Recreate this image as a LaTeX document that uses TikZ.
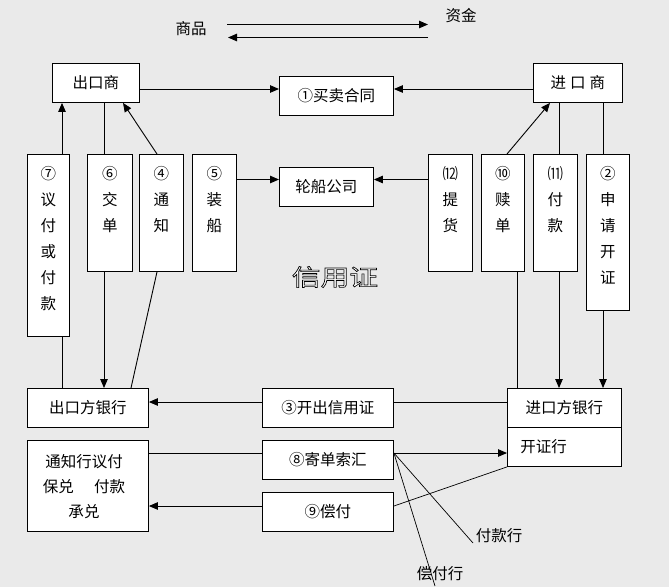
\documentclass[tikz,border=0pt]{standalone}
\usepackage{fontspec}
\setmainfont{Noto Sans CJK SC}
\newfontfamily\ttlfont{Noto Sans CJK SC}[BoldFont=Noto Sans CJK SC, BoldFeatures={FakeBold=2.6}]
\usetikzlibrary{arrows.meta,calc}
\definecolor{bg}{HTML}{EAEAEA}
\begin{document}
\begin{tikzpicture}[x=1pt,y=-1pt,
  box/.style={draw=black, fill=white, line width=0.9pt, inner sep=0pt, anchor=north west, font=\fontsize{15.5}{17}\selectfont},
  ln/.style={line width=0.9pt},
  thinln/.style={line width=0.7pt},
  arr/.style={ln, -{Triangle[length=9pt,width=7.5pt]}},
  vt/.style={align=center, font=\fontsize{15.5}{26}\selectfont, inner sep=0pt, anchor=north},
  lbl/.style={inner sep=0pt, font=\fontsize{15.5}{17}\selectfont},
  ttl/.style={inner sep=0pt, font=\ttlfont\fontsize{23}{23}\selectfont\bfseries},
  ]
\fill[bg] (0,0) rectangle (669,587);
\useasboundingbox (0,0) rectangle (669,587);

% top goods / money
\node[lbl] (goods) at (191,29) {商品};
\node[lbl] (money) at (461,16) {资金};
\coordinate (ga) at (227,24.5);
\coordinate (gb) at (428,24.5);
\coordinate (ma) at (428,37.5);
\coordinate (mb) at (228,37.5);
\draw[arr] (ga) -- (gb);
\draw[arr] (ma) -- (mb);

% boxes
\node[box, minimum width=87pt, minimum height=39pt] (ex) at (52,63) {出口商};
\node[box, minimum width=89pt, minimum height=39pt] (im) at (533,63) {进\hspace{4pt}口\hspace{4pt}商};
\node[box, minimum width=114pt, minimum height=39pt] (ct) at (279,76) {①买卖合同};
\node[box, minimum width=94pt, minimum height=39pt] (ship) at (279,167) {轮船公司};

\node[box, minimum width=42pt, minimum height=182pt] (b7) at (27,154) {};
\node[box, minimum width=45pt, minimum height=117pt] (b6) at (87,154) {};
\node[box, minimum width=44pt, minimum height=117pt] (b4) at (139,154) {};
\node[box, minimum width=44pt, minimum height=117pt] (b5) at (192,154) {};
\node[box, minimum width=44pt, minimum height=117pt] (b12) at (428,154) {};
\node[box, minimum width=43pt, minimum height=117pt] (b10) at (481,154) {};
\node[box, minimum width=44pt, minimum height=117pt] (b11) at (533,154) {};
\node[box, minimum width=43pt, minimum height=156pt] (b2) at (586,154) {};

\node[vt] (t7) at ([yshift=-12pt]b7.north) {⑦\\议\\付\\或\\付\\款};
\node[vt] (t6) at ([yshift=-12pt]b6.north) {⑥\\交\\单};
\node[vt] (t4) at ([yshift=-12pt]b4.north) {④\\通\\知};
\node[vt] (t5) at ([yshift=-12pt]b5.north) {⑤\\装\\船};
\node[vt] (t12) at ([yshift=-12pt]b12.north) {⑿\\提\\货};
\node[vt] (t10) at ([yshift=-12pt]b10.north) {⑩\\赎\\单};
\node[vt] (t11) at ([yshift=-12pt]b11.north) {⑾\\付\\款};
\node[vt] (t2) at ([yshift=-12pt]b2.north) {②\\申\\请\\开\\证};

\node[box, minimum width=121pt, minimum height=39pt] (exb) at (27,388) {出口方银行};
\node[box, minimum width=131pt, minimum height=39pt] (lc) at (262,388) {③开出信用证};
\node[box, minimum width=114pt, minimum height=39pt] (imb) at (507,388) {进口方银行};
\node[box, minimum width=114pt, minimum height=39pt, text width=88pt, align=left] (imb2) at (507,427) {开证行};
\node[box, minimum width=121pt, minimum height=91pt] (adv) at (27,440) {};
\node[inner sep=0pt, align=center, font=\fontsize{15.5}{25}\selectfont] (advt) at (84,487) {通知行议付\\保兑\hspace{1.3em}付款\\承兑};
\node[box, minimum width=131pt, minimum height=39pt] (s8) at (262,440) {⑧寄单索汇};
\node[box, minimum width=131pt, minimum height=39pt] (s9) at (262,492) {⑨偿付};

\node[lbl] (fk) at (499,536) {付款行};
\node[lbl] (ck) at (440,574) {偿付行};

% title: white letters with black outline
\node[ttl] (ttl) at (335,277) {\color{white}\special{pdf:code 0 G}\scalebox{1.25}[1]{信用证}};

% level coordinates
\coordinate (yc) at (0,89);
\coordinate (ysh) at (0,179.5);
\coordinate (ylc) at (0,402);
\coordinate (y8) at (0,453);
\coordinate (y9) at (0,506);
\coordinate (x7) at (62,0);
\coordinate (x6) at (104,0);
\coordinate (x4) at (157,0);
\coordinate (xa4) at (123,0);
\coordinate (xb4) at (131,0);
\coordinate (x10) at (507,0);
\coordinate (xa10) at (550,0);
\coordinate (xb10) at (517,0);
\coordinate (x11) at (559,0);
\coordinate (x2) at (603,0);
\coordinate (pk) at (473,543);
\coordinate (pc) at (435,586);

% connectors top
\draw[arr] (ex.east |- yc) -- (ct.west |- yc);
\draw[arr] (im.west |- yc) -- (ct.east |- yc);
\draw[arr] (x7 |- b7.north) -- (x7 |- ex.south);
\draw[ln] (x6 |- ex.south) -- (x6 |- b6.north);
\draw[arr] (x4 |- b4.north) -- (xa4 |- ex.south);
\draw[arr] (b5.east |- ysh) -- (ship.west |- ysh);
\draw[arr] (b12.west |- ysh) -- (ship.east |- ysh);
\draw[arr] (x10 |- b10.north) -- (xa10 |- im.south);
\draw[ln] (x11 |- im.south) -- (x11 |- b11.north);
\draw[ln] (x2 |- im.south) -- (x2 |- b2.north);

% connectors to banks
\draw[ln] (x7 |- b7.south) -- (x7 |- exb.north);
\draw[arr] (x6 |- b6.south) -- (x6 |- exb.north);
\draw[ln] (x4 |- b4.south) -- (xb4 |- exb.north);
\draw[ln] (xb10 |- b10.south) -- (xb10 |- imb.north);
\draw[arr] (x11 |- b11.south) -- (x11 |- imb.north);
\draw[arr] (x2 |- b2.south) -- (x2 |- imb.north);

% bottom
\draw[arr] (lc.west |- ylc) -- (exb.east |- ylc);
\draw[ln] (lc.east |- ylc) -- (imb.west |- ylc);
\draw[ln] (adv.east |- y8) -- (s8.west |- y8);
\draw[arr] (s8.east |- y8) -- (imb2.west |- y8);
\draw[arr] (s9.west |- y9) -- (adv.east |- y9);
\draw[thinln] (s9.east |- y9) -- (imb2.south west);
\draw[thinln] (s8.east |- y8) -- (pk);
\draw[thinln] (s8.east |- y8) -- (pc);
\end{tikzpicture}
\end{document}
